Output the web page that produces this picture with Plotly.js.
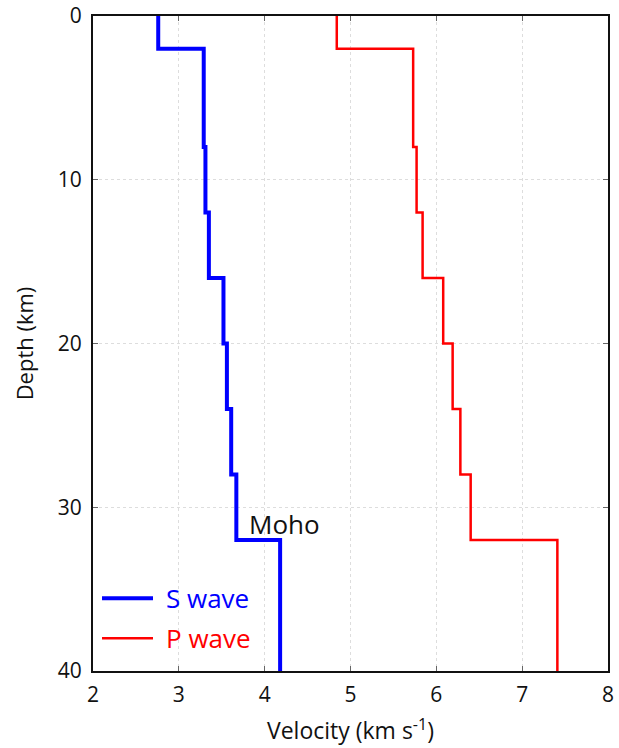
<!DOCTYPE html>
<html>
<head>
<meta charset="utf-8">
<script src="https://cdn.plot.ly/plotly-3.0.1.min.js"></script>
<style>
  html, body { margin: 0; padding: 0; background: #fff; }
  #chart { width: 619px; height: 748px; }
</style>
</head>
<body>
<div id="chart"></div>
<script>
// Layer tops (km); the last entry closes the profile at the bottom of the plot
const layerTop = [0, 2, 8, 12, 16, 20, 24, 28, 32, 40];
// Shear-wave and compressional-wave velocities (km/s) of each layer
const vS = [2.76, 3.29, 3.31, 3.35, 3.52, 3.56, 3.61, 3.67, 4.18, 4.18];
const vP = [4.84, 5.73, 5.77, 5.84, 6.08, 6.19, 6.28, 6.40, 7.41, 7.41];

const seriesNames = ['S wave', 'P wave'];
const seriesColors = ['#0000ff', '#ff0000'];
const seriesWidths = [4, 2.5];

const xTicks = [2, 3, 4, 5, 6, 7, 8];
const yTicks = [0, 10, 20, 30, 40];

const FONT = 'Open Sans, Noto Sans, sans-serif';

const traces = [vS, vP].map((v, i) => ({
  x: v, y: layerTop, type: 'scatter', mode: 'lines',
  line: { color: seriesColors[i], width: seriesWidths[i], shape: 'vh' },
  name: seriesNames[i], showlegend: false
}));

// Key in the lower-left corner: a line sample and a coloured label per series
const keyRows = [0.111, 0.050];
const keyShapes = seriesNames.map((n, i) => ({
  type: 'line', xref: 'paper', yref: 'paper',
  x0: 0.0175, x1: 0.1165, y0: keyRows[i], y1: keyRows[i],
  line: { color: seriesColors[i], width: seriesWidths[i] }
}));
const keyLabels = seriesNames.map((n, i) => ({
  xref: 'paper', yref: 'paper', x: 0.137, y: keyRows[i],
  xanchor: 'left', yanchor: 'middle', showarrow: false,
  text: n, font: { family: FONT, size: 26, color: seriesColors[i] }
}));

const axisCommon = {
  showline: true, linecolor: '#111', linewidth: 2, mirror: 'ticks',
  ticks: 'inside', ticklen: 5, tickcolor: '#666',
  showgrid: true, gridcolor: '#dddddd', gridwidth: 1, griddash: 'dot',
  zeroline: false, ticklabeloverflow: 'allow',
  tickfont: { family: FONT, size: 21, color: '#111' }
};

const layout = {
  width: 619, height: 748,
  margin: { l: 93, r: 11, t: 16, b: 77 },
  paper_bgcolor: '#ffffff', plot_bgcolor: '#ffffff',
  font: { family: FONT, size: 22, color: '#111' },
  showlegend: false,
  xaxis: Object.assign({}, axisCommon, {
    range: [2, 8], tickvals: xTicks, ticktext: xTicks.map(String),
    ticklabelstandoff: 4,
    title: { text: 'Velocity (km s<sup>-1</sup>)', font: { family: FONT, size: 23, color: '#111' }, standoff: 16 }
  }),
  yaxis: Object.assign({}, axisCommon, {
    range: [40, 0], tickvals: yTicks, ticktext: yTicks.map(String),
    ticklabelstandoff: 5,
    title: { text: 'Depth (km)', font: { family: FONT, size: 22, color: '#111' }, standoff: 18 }
  }),
  shapes: keyShapes,
  annotations: keyLabels.concat([
    {
      x: 3.79, y: 31.0, xref: 'x', yref: 'y',
      text: 'Moho', showarrow: false, xanchor: 'left', yanchor: 'middle',
      font: { family: FONT, size: 26, color: '#111' }
    }
  ])
};

Plotly.newPlot('chart', traces, layout, { displayModeBar: false, staticPlot: true });
</script>
</body>
</html>
